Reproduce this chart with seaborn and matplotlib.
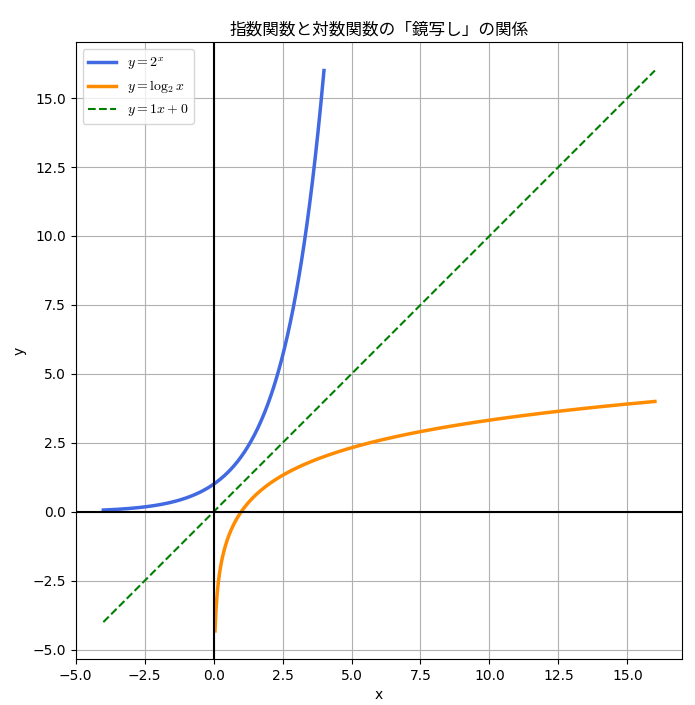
import numpy as np
import pandas as pd
import matplotlib
matplotlib.use("Agg")
import matplotlib.pyplot as plt
import seaborn as sns

# 関数のパラメータ
base = 2
exp_x_range = [-4, 4]
log_x_range = [0.05, 16]
line_slope = 1
line_intercept = 0
line_x_range = [-4, 16]
n_points = 400

labels = [r"$y=2^x$", r"$y=\log_2 x$", r"$y=1x+0$"]
title = "指数関数と対数関数の「鏡写し」の関係"

plt.rcParams["font.family"] = ["DejaVu Sans", "Noto Sans CJK JP"]
plt.rcParams["mathtext.fontset"] = "cm"

x_exp = np.linspace(*exp_x_range, n_points)
x_log = np.linspace(*log_x_range, n_points)
x_lin = np.linspace(*line_x_range, n_points)

df_exp = pd.DataFrame({"x": x_exp, "y": base ** x_exp})
df_log = pd.DataFrame({"x": x_log, "y": np.log(x_log) / np.log(base)})
df_lin = pd.DataFrame({"x": x_lin, "y": line_slope * x_lin + line_intercept})

fig, ax = plt.subplots(figsize=(6.95, 7.05), dpi=100)

sns.lineplot(data=df_exp, x="x", y="y", ax=ax, color="royalblue", linewidth=2.5, label=labels[0])
sns.lineplot(data=df_log, x="x", y="y", ax=ax, color="darkorange", linewidth=2.5, label=labels[1])
sns.lineplot(data=df_lin, x="x", y="y", ax=ax, color="green", linewidth=1.5, linestyle="--", label=labels[2])

ax.axhline(0, color="black", linewidth=1.5)
ax.axvline(0, color="black", linewidth=1.5)

ax.set_aspect("equal")
ax.grid(True)
ax.set_title(title, family=["Noto Sans CJK JP", "DejaVu Sans"])
ax.set_xlabel("x")
ax.set_ylabel("y")
ax.legend(loc="upper left")

plt.subplots_adjust(left=0.109, right=0.982, top=0.94, bottom=0.065)
plt.savefig("out.png", dpi=100)
